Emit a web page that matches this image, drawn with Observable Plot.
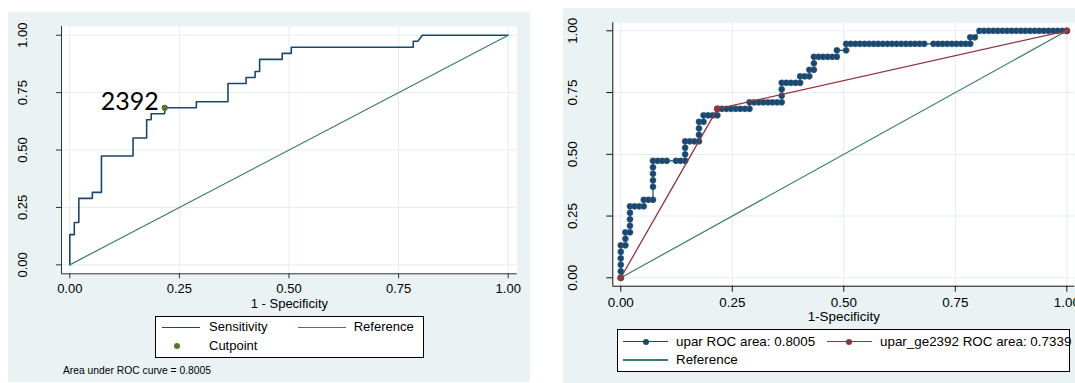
<!DOCTYPE html>
<html><head><meta charset="utf-8">
<script src="https://cdn.jsdelivr.net/npm/d3@7"></script>
<script src="https://cdn.jsdelivr.net/npm/@observablehq/plot@0.6"></script>
<style>
body{margin:0;background:#fff;font-family:"Liberation Sans",Arial,sans-serif;color:#000;}
#root{position:relative;width:1075px;height:383px;overflow:hidden;}
.abs{position:absolute;}
</style></head><body><div id="root"></div>
<script>
// ROC points (1 - specificity, sensitivity) for upar
const fpr = [
  0,0,0,0,0,0,
  .0103,.0103,.0103,
  .0206,.0206,.0206,.0206,.0206,
  .0309,.0412,.0515,
  .0515,.0619,.0722,
  .0722,.0722,.0722,.0722,.0722,
  .0825,.0928,.1031,.1237,.1340,.1443,
  .1443,.1443,.1443,
  .1546,.1649,.1753,
  .1753,.1753,.1753,
  .1856,.1856,
  .1959,.2062,.2165,
  .2165,
  .2268,.2371,.2474,.2577,.2680,.2784,.2887,
  .2887,
  .2990,.3093,.3196,.3299,.3402,.3505,.3608,
  .3608,.3608,.3608,
  .3711,.3814,.3918,.4021,
  .4021,
  .4124,.4227,
  .4227,
  .4330,
  .4330,.4330,
  .4433,.4536,.4639,.4742,.4845,
  .4845,
  .5052,.5052,
  .5155,.5258,.5361,.5464,.5567,.5670,.5773,.5876,.5979,.6082,.6186,.6289,.6392,.6495,.6598,.6701,.6804,
  .7010,.7113,.7216,.7320,.7423,.7526,.7629,.7732,.7835,
  .7835,.7938,
  .8041,.8144,.8247,.8351,.8454,.8557,.8660,.8763,.8866,.8969,.9072,.9175,.9278,.9381,.9485,.9588,.9691,.9794,.9897,1
];
const sens = [
  0,.0263,.0526,.0789,.1053,.1316,
  .1316,.1579,.1842,
  .1842,.2105,.2368,.2632,.2895,
  .2895,.2895,.2895,
  .3158,.3158,.3158,
  .3684,.3947,.4211,.4474,.4737,
  .4737,.4737,.4737,.4737,.4737,.4737,
  .5000,.5263,.5526,
  .5526,.5526,.5526,
  .5789,.6053,.6316,
  .6316,.6579,
  .6579,.6579,.6579,
  .6842,
  .6842,.6842,.6842,.6842,.6842,.6842,.6842,
  .7105,
  .7105,.7105,.7105,.7105,.7105,.7105,.7105,
  .7368,.7632,.7895,
  .7895,.7895,.7895,.7895,
  .8158,
  .8158,.8158,
  .8421,
  .8421,
  .8684,.8947,
  .8947,.8947,.8947,.8947,.8947,
  .9211,
  .9211,.9474,
  .9474,.9474,.9474,.9474,.9474,.9474,.9474,.9474,.9474,.9474,.9474,.9474,.9474,.9474,.9474,.9474,.9474,
  .9474,.9474,.9474,.9474,.9474,.9474,.9474,.9474,.9474,
  .9737,.9737,
  1,1,1,1,1,1,1,1,1,1,1,1,1,1,1,1,1,1,1,1
];
// cutpoint 2392
const cutFpr = [0.2165];
const cutSens = [0.6842];
const cutLabel = ["2392"];
// binary classifier upar >= 2392
const binFpr = [0, 0.2165, 1];
const binSens = [0, 0.6842, 1];
// reference diagonal
const refVals = [0, 1];
const tickVals = [0, 0.25, 0.5, 0.75, 1];
const leftLegend = ["Sensitivity", "Reference", "Cutpoint"];
const rightLegend = ["upar ROC area: 0.8005", "upar_ge2392 ROC area: 0.7339", "Reference"];
const footnote = "Area under ROC curve = 0.8005";
const xTitles = ["1 - Specificity", "1-Specificity"];

const navy = "#1a476f", teal = "#3a7d70", maroon = "#90353b", green = "#55752f";
const gridCol = "#e4edf0", bgCol = "#eaf2f3";

const roc = fpr.map((x, i) => ({x, y: sens[i]}));
const cut = cutFpr.map((x, i) => ({x, y: cutSens[i], label: cutLabel[i]}));
const bin = binFpr.map((x, i) => ({x, y: binSens[i]}));
const ref = refVals.map(v => ({x: v, y: v}));

const root = document.getElementById("root");
function addEl(style, text) {
  const d = document.createElement("div");
  d.className = "abs";
  Object.assign(d.style, style);
  if (text != null) d.textContent = text;
  root.appendChild(d);
  return d;
}
function hline(x1, x2, y, color, w) {
  addEl({left: x1 + "px", top: (y - w / 2) + "px", width: (x2 - x1) + "px", height: w + "px", background: color});
}
function disc(cx, cy, r, color) {
  addEl({left: (cx - r) + "px", top: (cy - r) + "px", width: 2 * r + "px", height: 2 * r + "px", borderRadius: "50%", background: color});
}
function label(x, cy, txt, size) {
  addEl({left: x + "px", top: (cy - 10) + "px", height: "20px", lineHeight: "20px", fontSize: size + "px", whiteSpace: "nowrap"}, txt);
}

// panel backgrounds
addEl({left: "8px", top: "12px", width: "522px", height: "370px", background: bgCol});
addEl({left: "563px", top: "8px", width: "512px", height: "375px", background: bgCol});

// ---------- left panel ----------
const lxDom = [-0.0189, 1.0205], lyDom = [-0.039, 1.038];
const left = Plot.plot({
  width: 530, height: 312,
  marginLeft: 61, marginRight: 13.3, marginTop: 26, marginBottom: 38.7,
  style: {background: "transparent", fontFamily: "Liberation Sans, Arial, sans-serif", fontSize: "13px", color: "#000", overflow: "visible"},
  x: {domain: lxDom}, y: {domain: lyDom},
  marks: [
    Plot.frame({fill: "white", stroke: null}),
    Plot.gridX(tickVals, {stroke: gridCol, strokeOpacity: 1}),
    Plot.gridY(tickVals, {stroke: gridCol, strokeOpacity: 1}),
    Plot.ruleX([lxDom[0]], {stroke: "#333", strokeWidth: 1}),
    Plot.ruleY([lyDom[0]], {stroke: "#333", strokeWidth: 1}),
    Plot.axisX({ticks: tickVals, tickSize: 5, tickPadding: 5, tickFormat: d3.format(".2f"), label: null, stroke: "#333", fill: "#000"}),
    Plot.axisY({ticks: tickVals, tickSize: 5, tickRotate: -90, tickPadding: 30, textAnchor: "middle", lineAnchor: "bottom", tickFormat: d3.format(".2f"), label: null, stroke: "#333", fill: "#000"}),
    Plot.line(roc, {x: "x", y: "y", stroke: navy, strokeWidth: 1.6}),
    Plot.line(ref, {x: "x", y: "y", stroke: teal, strokeWidth: 1.2}),
    Plot.dot(cut, {x: "x", y: "y", r: 3.1, fill: green}),
    Plot.text(cut, {x: "x", y: "y", text: "label", textAnchor: "end", lineAnchor: "bottom", dx: -6, dy: 2, fontSize: 25, fontFamily: "Lato, 'Noto Sans', sans-serif", fill: "#000"}),
    Plot.text([xTitles[0]], {frameAnchor: "bottom", dy: 30, lineAnchor: "middle", fontSize: 13, fill: "#000"})
  ]
});
const lw = addEl({left: "0px", top: "0px"});
lw.appendChild(left);

// ---------- right panel ----------
const rxDom = [-0.0179, 1.0179], ryDom = [-0.034, 1.0324];
const right = Plot.plot({
  width: 535, height: 326,
  marginLeft: 72.3, marginRight: 0.7, marginTop: 22.3, marginBottom: 40.3,
  style: {background: "transparent", fontFamily: "Liberation Sans, Arial, sans-serif", fontSize: "13.4px", color: "#000", overflow: "visible"},
  x: {domain: rxDom}, y: {domain: ryDom},
  marks: [
    Plot.frame({fill: "white", stroke: null}),
    Plot.gridX(tickVals, {stroke: gridCol, strokeOpacity: 1}),
    Plot.gridY(tickVals, {stroke: gridCol, strokeOpacity: 1}),
    Plot.ruleX([rxDom[0]], {stroke: "#111", strokeWidth: 1}),
    Plot.ruleY([ryDom[0]], {stroke: "#111", strokeWidth: 1}),
    Plot.axisX({ticks: tickVals, tickSize: 6, tickPadding: 5, tickFormat: d3.format(".2f"), label: null, stroke: "#111", fill: "#000"}),
    Plot.axisY({ticks: tickVals, tickSize: 6, tickRotate: -90, tickPadding: 29.6, textAnchor: "middle", lineAnchor: "bottom", tickFormat: d3.format(".2f"), label: null, stroke: "#111", fill: "#000"}),
    Plot.line(roc, {x: "x", y: "y", stroke: navy, strokeWidth: 1.2}),
    Plot.dot(roc, {x: "x", y: "y", r: 3.1, fill: navy, stroke: "#4a6f8f", strokeWidth: 0.4}),
    Plot.line(bin, {x: "x", y: "y", stroke: maroon, strokeWidth: 1.3}),
    Plot.dot(bin, {x: "x", y: "y", r: 3.4, fill: maroon}),
    Plot.line(ref, {x: "x", y: "y", stroke: teal, strokeWidth: 1.2}),
    Plot.text([xTitles[1]], {frameAnchor: "bottom", dy: 30.5, lineAnchor: "middle", fontSize: 13.4, fill: "#000"})
  ]
});
const rw = addEl({left: "540px", top: "0px"});
rw.appendChild(right);

// ---------- left legend ----------
addEl({left: "155px", top: "316px", width: "269px", height: "42px", background: "#fff", border: "1px solid #000", boxSizing: "border-box"});
hline(161.7, 200, 327.3, navy, 1.4);
label(209, 327.3, leftLegend[0], 13);
hline(297.7, 346, 327.3, teal, 1.4);
label(353.7, 327.3, leftLegend[1], 13);
disc(177, 346, 3, green);
label(209, 346, leftLegend[2], 13);
label(63, 370.7, footnote, 10.3);

// ---------- right legend ----------
addEl({left: "617px", top: "329px", width: "453px", height: "43px", background: "#fff", border: "1px solid #000", boxSizing: "border-box"});
hline(623.3, 668.3, 341.7, navy, 1.3);
disc(646, 341.7, 3.2, navy);
label(676, 341.7, rightLegend[0], 13.4);
hline(826.7, 872.3, 341.7, maroon, 1.3);
disc(849.3, 341.7, 3.2, maroon);
label(880, 341.7, rightLegend[1], 13.4);
hline(623.3, 668.3, 360, teal, 1.3);
label(676, 360, rightLegend[2], 13.4);
</script></body></html>
